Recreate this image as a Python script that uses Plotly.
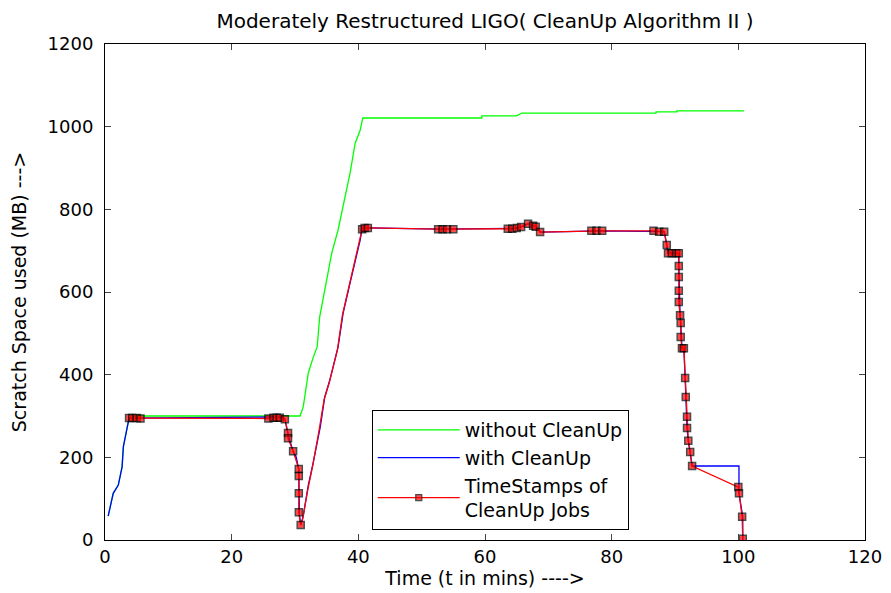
import plotly.graph_objects as go

# ---- data ----
green_x = [0.5, 1.3, 2.1, 2.7, 2.9, 3.5, 3.8, 5.0, 30.8, 31.3, 32.1, 32.9, 33.5, 33.9, 35.0, 35.8,
           36.8, 37.6, 38.7, 39.5, 40.3, 40.7, 59.5, 59.5, 65.0, 65.8, 87.0, 87.0, 90.3, 90.3, 100.9]
green_y = [58, 113, 133, 177, 226, 274, 295, 300, 300, 322, 404, 443, 467, 540, 624, 694,
           750, 810, 888, 960, 992, 1021, 1021, 1026, 1026, 1033, 1033, 1036, 1036, 1038, 1038]

blue_x = [0.5, 1.3, 2.1, 2.7, 2.9, 3.5, 3.8, 28.0, 28.4, 28.9, 29.7, 30.2, 30.6, 30.7, 30.9,
          31.3, 32.1, 32.9, 34.0, 34.7, 35.5, 36.8, 37.6, 38.7, 39.5, 40.3, 40.6, 41.5,
          53.0, 65.0, 66.0, 66.8, 68.0, 68.7, 78.5, 88.3, 88.7, 88.9, 90.6, 90.6, 90.8, 90.9,
          91.1, 91.4, 91.6, 91.7, 91.9, 91.9, 92.1, 92.4, 92.7, 100.1, 100.1, 100.1, 100.7, 100.7]
blue_y = [58, 113, 133, 177, 226, 274, 295, 298, 293, 255, 215, 200, 170, 60, 36,
          58, 133, 189, 274, 346, 387, 467, 549, 622, 677, 726, 755, 755,
          752, 754, 760, 765, 760, 745, 748, 746, 714, 694, 694, 663, 544, 525,
          464, 464, 392, 346, 298, 271, 240, 213, 179, 179, 128, 113, 56, 0]

red_x = [3.8, 4.3, 5.0, 5.6, 25.8, 26.6, 27.1, 27.6, 28.4, 28.9, 28.9, 29.7, 30.6, 30.6, 30.6,
         30.6, 30.9, 31.2, 32.0, 32.8, 33.8, 34.6, 35.4, 36.7, 37.5, 38.6, 39.4, 40.2,
         40.6, 41.0, 41.5, 52.6, 53.3, 54.0, 55.0, 63.6, 64.3, 65.0, 65.7, 66.8, 67.6, 68.0,
         68.7, 76.8, 77.6, 78.5, 86.6, 87.5, 88.3, 88.7, 88.9, 89.5, 90.2, 90.6, 90.6, 90.6,
         90.6, 90.6, 90.8, 90.9, 90.9, 91.1, 91.4, 91.6, 91.7, 91.9, 91.9, 92.1, 92.4, 92.7,
         100.0, 100.1, 100.6, 100.7]
red_y = [295, 295, 295, 294, 294, 296, 296, 296, 292, 259, 246, 215, 172, 155, 113,
         67, 36, 50, 120, 180, 265, 340, 380, 460, 545, 620, 675, 722,
         752, 755, 755, 752, 752, 752, 752, 753, 753, 755, 757, 765, 760, 758,
         745, 748, 748, 748, 748, 746, 746, 714, 694, 694, 694, 694, 663, 636,
         603, 576, 544, 525, 491, 464, 464, 392, 346, 298, 271, 240, 213, 179,
         128, 113, 56, 3]
red_has_marker = [1] * 17 + [0] * 11 + [1] * (len(red_x) - 28)

x_ticks = [0, 20, 40, 60, 80, 100, 120]
y_ticks = [0, 200, 400, 600, 800, 1000, 1200]

FONT = "DejaVu Sans, Verdana, sans-serif"

fig = go.Figure()
fig.add_trace(go.Scatter(x=green_x, y=green_y, mode="lines", name="without CleanUp",
                         line=dict(color="#00ff00", width=1.3)))
fig.add_trace(go.Scatter(x=blue_x, y=blue_y, mode="lines", name="with CleanUp",
                         line=dict(color="#0000ff", width=1.3)))
fig.add_trace(go.Scatter(
    x=red_x, y=red_y, mode="lines+markers", name="TimeStamps of<br>CleanUp Jobs",
    line=dict(color="#ff0000", width=1.3),
    marker=dict(symbol="square", color="#ff0000",
                size=[7 if m else 0 for m in red_has_marker],
                line=dict(color="black", width=[1.5 if m else 0 for m in red_has_marker]))))

# the page has an 8px body margin, so the figure is sized/offset to compensate
fig.update_layout(
    width=883, height=585,
    paper_bgcolor="white", plot_bgcolor="white",
    margin=dict(l=97, r=26, t=36, b=53),
    font=dict(family=FONT, size=18, color="black"),
    title=dict(text="Moderately Restructured LIGO( CleanUp Algorithm II )",
               x=0.5, xref="paper", y=0.978, yanchor="middle",
               font=dict(size=20)),
    xaxis=dict(range=[0, 120], tickvals=x_ticks, ticks="inside", ticklen=6,
               showline=True, linecolor="black", linewidth=1, mirror="ticks",
               showgrid=False, zeroline=False, automargin=False,
               title=dict(text="Time (t in mins) ---->", standoff=5, font=dict(size=19))),
    yaxis=dict(range=[0, 1200], tickvals=y_ticks, ticks="inside", ticklen=6,
               showline=True, linecolor="black", linewidth=1, mirror="ticks",
               showgrid=False, zeroline=False, automargin=False,
               ticklabelstandoff=7,
               title=dict(text="Scratch Space used (MB) --->", standoff=18, font=dict(size=19))),
    legend=dict(x=0.351, y=0.262, xanchor="left", yanchor="top",
                bgcolor="white", bordercolor="black", borderwidth=1,
                font=dict(size=19), itemwidth=82, tracegroupgap=0),
    showlegend=True,
)

fig.write_html("out.html")
